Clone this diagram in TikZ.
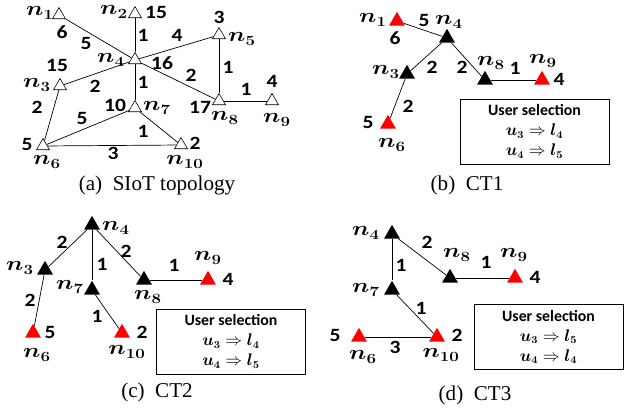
\documentclass[tikz,border=0pt]{standalone}
\usepackage[no-math]{fontspec}
\usepackage{amsmath,bm}
\setmainfont{Liberation Serif}
\newfontfamily\calfont{Carlito}
\newfontfamily\digitfont[FakeStretch=1.15]{Carlito}
\usetikzlibrary{shapes.geometric}

\newcommand{\nlab}[1]{\scalebox{1.2}[1]{$\bm{n}_{\bm{#1}}$}}

\tikzset{tri/.style={regular polygon,regular polygon sides=3,inner sep=0pt,line width=0.5pt},
open tri/.style={tri,minimum size=0.45cm,draw=black,fill=white},
end tri/.style={tri,minimum size=0.55cm,fill=red},
mid tri/.style={tri,minimum size=0.55cm,fill=black},
link/.style={line width=0.6pt},
weight/.style={font=\digitfont\bfseries\fontsize{16}{18}\selectfont,inner sep=0pt},
nodetag/.style={font=\fontsize{17}{19}\selectfont,inner sep=0pt},
select box/.style={draw,line width=0.6pt,inner sep=0pt,align=center,minimum width=4.47cm,minimum height=1.95cm,font=\calfont\bfseries\fontsize{13.5}{17}\selectfont},
subcap/.style={font=\fontsize{18}{20}\selectfont,inner sep=0pt}}

\begin{document}
\begin{tikzpicture}[x=0.03cm,y=-0.03cm]
\useasboundingbox (0,0) rectangle (633,415);

%%%% (a) whole topology
%% triangles
\node [open tri] (a1) at (59,15) {};
\node [open tri] (a2) at (135,14) {};
\node [open tri] (a3) at (60,86) {};
\node [open tri] (a4) at (135,60) {};
\node [open tri] (a5) at (219,35) {};
\node [open tri] (a6) at (43,146) {};
\node [open tri] (a7) at (135,108) {};
\node [open tri] (a8) at (219,101) {};
\node [open tri] (a9) at (272,101) {};
\node [open tri] (a10) at (181,145) {};

%% edges
\draw [link] (a1) -- (a4);
\draw [link] (a2) -- (a4);
\draw [link] (a4) -- (a5);
\draw [link] (a3) -- (a4);
\draw [link] (a4) -- (a7);
\draw [link] (a4) -- (a8);
\draw [link] (a5) -- (a8);
\draw [link] (a8) -- (a9);
\draw [link] (a3) -- (a6);
\draw [link] (a6) -- (a7);
\draw [link] (a7) -- (a10);
\draw [link] (a6) -- (a10);

%% names
\node [nodetag] (an1) at (40,13) {\nlab{1}};
\node [nodetag] (an2) at (114,12) {\nlab{2}};
\node [nodetag] (an3) at (37,85) {\nlab{3}};
\node [nodetag] (an4) at (111,60) {\nlab{4}};
\node [nodetag] (an5) at (242,39) {\nlab{5}};
\node [nodetag] (an6) at (47,162) {\nlab{6}};
\node [nodetag] (an7) at (157,108) {\nlab{7}};
\node [nodetag] (an8) at (225,118) {\nlab{8}};
\node [nodetag] (an9) at (277,120) {\nlab{9}};
\node [nodetag] (an10) at (185,162) {\nlab{10}};

%% node weights
\node [weight] (aw1) at (62,32) {6};
\node [weight] (aw2) at (156,12) {15};
\node [weight] (aw3) at (57,65) {15};
\node [weight] (aw4) at (162,63) {16};
\node [weight] (aw5) at (219,17) {3};
\node [weight] (aw6) at (27,144) {5};
\node [weight] (aw7) at (115,105) {10};
\node [weight] (aw8) at (200,107) {17};
\node [weight] (aw9) at (272,81) {4};
\node [weight] (aw10) at (195,143) {2};

%% edge weights
\node [weight] (ae14) at (86,43) {5};
\node [weight] (ae24) at (143,35) {1};
\node [weight] (ae45) at (177,35) {4};
\node [weight] (ae34) at (95,86) {2};
\node [weight] (ae47) at (143,82) {1};
\node [weight] (ae48) at (191,75) {2};
\node [weight] (ae58) at (228,67) {1};
\node [weight] (ae89) at (246,89) {1};
\node [weight] (ae36) at (37,107) {2};
\node [weight] (ae67) at (82,118) {5};
\node [weight] (ae710) at (143,131) {1};
\node [weight] (ae610) at (113,153) {3};

\node [subcap] (acap) at (157,185) {(a)\ \ SIoT topology};

%%%% (b) CT1
%% triangles
\node [end tri] (b1) at (397,21) {};
\node [mid tri] (b4) at (447,38) {};
\node [mid tri] (b3) at (407,74) {};
\node [mid tri] (b8) at (485,80) {};
\node [end tri] (b9) at (542,80) {};
\node [end tri] (b6) at (388,124) {};

%% edges
\draw [link] (b1) -- (b4);
\draw [link] (b4) -- (b3);
\draw [link] (b4) -- (b8);
\draw [link] (b8) -- (b9);
\draw [link] (b3) -- (b6);

%% names
\node [nodetag] (bn1) at (373,20) {\nlab{1}};
\node [nodetag] (bn4) at (449,22) {\nlab{4}};
\node [nodetag] (bn3) at (386,72) {\nlab{3}};
\node [nodetag] (bn8) at (491,63) {\nlab{8}};
\node [nodetag] (bn9) at (543,61) {\nlab{9}};
\node [nodetag] (bn6) at (392,145) {\nlab{6}};

%% weights
\node [weight] (bw1) at (395,38) {6};
\node [weight] (bw9) at (559,79) {4};
\node [weight] (bw6) at (368,122) {5};
\node [weight] (be14) at (424,20) {5};
\node [weight] (be34) at (432,67) {2};
\node [weight] (be48) at (462,67) {2};
\node [weight] (be89) at (515,68) {1};
\node [weight] (be36) at (408,106) {2};

\node [select box] (bsel) at (534.5,131.5) {User selection\\ $\bm{u}_{\bm{3}}\Rightarrow\bm{l}_{\bm{4}}$\\ $\bm{u}_{\bm{4}}\Rightarrow\bm{l}_{\bm{5}}$};

\node [subcap] (bcap) at (467,185) {(b)\ \ CT1};

%%%% (c) CT2
%% triangles
\node [mid tri] (c4) at (92,225) {};
\node [mid tri] (c3) at (45,270) {};
\node [mid tri] (c7) at (92,290) {};
\node [mid tri] (c8) at (144,280) {};
\node [end tri] (c9) at (208,280) {};
\node [end tri] (c6) at (33,333) {};
\node [end tri] (c10) at (122,333) {};

%% edges
\draw [link] (c4) -- (c3);
\draw [link] (c4) -- (c7);
\draw [link] (c4) -- (c8);
\draw [link] (c8) -- (c9);
\draw [link] (c3) -- (c6);
\draw [link] (c7) -- (c10);

%% names
\node [nodetag] (cn4) at (116,228) {\nlab{4}};
\node [nodetag] (cn3) at (20,268) {\nlab{3}};
\node [nodetag] (cn7) at (70,287) {\nlab{7}};
\node [nodetag] (cn9) at (208,258) {\nlab{9}};
\node [nodetag] (cn8) at (148,297) {\nlab{8}};
\node [nodetag] (cn6) at (37,355) {\nlab{6}};
\node [nodetag] (cn10) at (127,352) {\nlab{10}};

%% weights
\node [weight] (cw9) at (228,279) {4};
\node [weight] (cw6) at (50,332) {5};
\node [weight] (cw10) at (142,332) {2};
\node [weight] (ce34) at (62,242) {2};
\node [weight] (ce48) at (126,251) {2};
\node [weight] (ce47) at (102,264) {1};
\node [weight] (ce89) at (174,265) {1};
\node [weight] (ce36) at (30,300) {2};
\node [weight] (ce710) at (97,316) {1};

\node [select box] (csel) at (231,341.5) {User selection\\ $\bm{u}_{\bm{3}}\Rightarrow\bm{l}_{\bm{4}}$\\ $\bm{u}_{\bm{4}}\Rightarrow\bm{l}_{\bm{5}}$};

\node [subcap] (ccap) at (157,392) {(c)\ \ CT2};

%%%% (d) CT3
%% triangles
\node [mid tri] (d4) at (392,234) {};
\node [mid tri] (d7) at (392,290) {};
\node [mid tri] (d8) at (450,278) {};
\node [end tri] (d9) at (515,278) {};
\node [end tri] (d6) at (359,337) {};
\node [end tri] (d10) at (437,337) {};

%% edges
\draw [link] (d4) -- (d7);
\draw [link] (d4) -- (d8);
\draw [link] (d8) -- (d9);
\draw [link] (d7) -- (d10);
\draw [link] (d6) -- (d10);

%% names
\node [nodetag] (dn4) at (366,233) {\nlab{4}};
\node [nodetag] (dn8) at (457,255) {\nlab{8}};
\node [nodetag] (dn9) at (514,255) {\nlab{9}};
\node [nodetag] (dn7) at (366,290) {\nlab{7}};
\node [nodetag] (dn6) at (363,357) {\nlab{6}};
\node [nodetag] (dn10) at (441,355) {\nlab{10}};

%% weights
\node [weight] (dw9) at (535,277) {4};
\node [weight] (dw6) at (335,335) {5};
\node [weight] (dw10) at (457,335) {2};
\node [weight] (de48) at (427,242) {2};
\node [weight] (de89) at (486,262) {1};
\node [weight] (de47) at (401,265) {1};
\node [weight] (de710) at (421,308) {1};
\node [weight] (de610) at (395,347) {3};

\node [select box] (dsel) at (548.5,337) {User selection\\ $\bm{u}_{\bm{3}}\Rightarrow\bm{l}_{\bm{5}}$\\ $\bm{u}_{\bm{4}}\Rightarrow\bm{l}_{\bm{4}}$};

\node [subcap] (dcap) at (475,395) {(d)\ \ CT3};

\end{tikzpicture}
\end{document}
